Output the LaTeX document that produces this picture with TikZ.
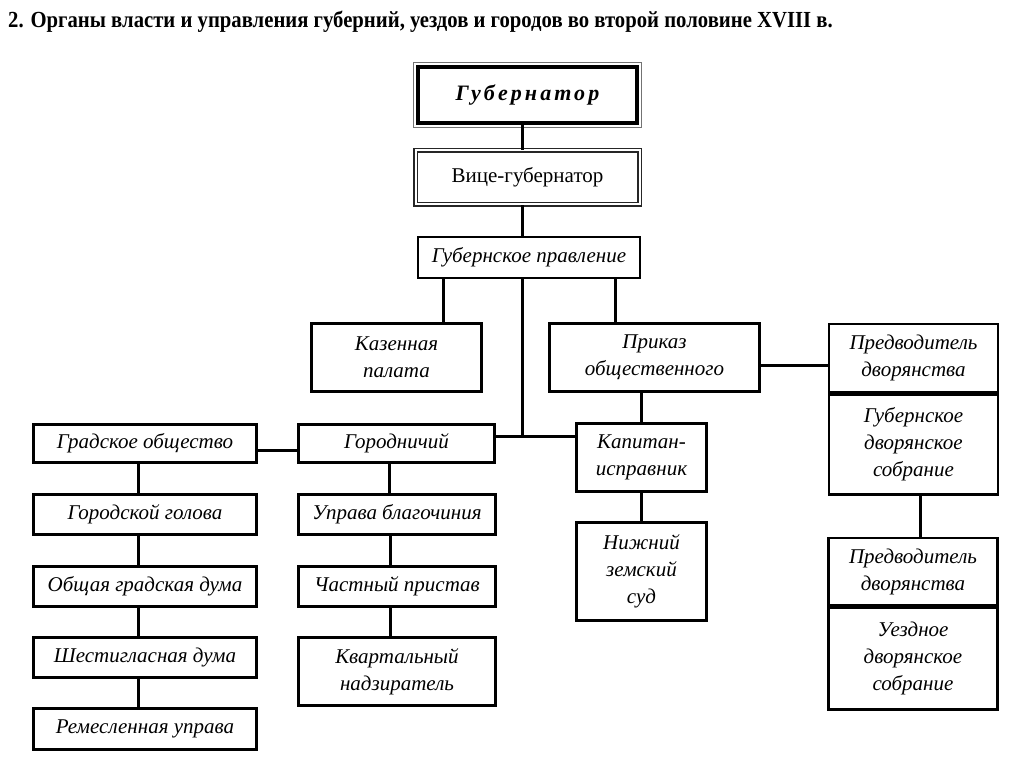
\documentclass[tikz,border=0pt]{standalone}
\usepackage{fontspec}
\setmainfont{Liberation Serif}
\newfontfamily\headfont{Liberation Serif}[FakeStretch=0.9]
\begin{document}
\begin{tikzpicture}[x=1pt,y=-1pt,
  box/.style={draw,line width=2.6pt,align=center,inner sep=1pt,font=\fontsize{21}{27}\selectfont\itshape},
  govbox/.style={draw,line width=3.6pt,align=center,font=\fontsize{22}{24}\selectfont\bfseries\itshape\addfontfeatures{LetterSpace=14}},
  vicebox/.style={draw=black!85,double,double distance=2pt,line width=1.1pt,align=center,font=\fontsize{21}{24}\selectfont},
  link/.style={line width=3pt}]
\useasboundingbox (0,0) rectangle (1024,767);
\node[anchor=base west,inner sep=0pt,font=\headfont\bfseries\fontsize{23}{25}\selectfont] (title) at (8,28) {2. Органы власти и управления губерний, уездов и городов во второй половине XVIII в.};
\node[govbox,minimum width=219pt,minimum height=56pt] (gov) at (527.5,95) {Губернатор};
\draw[black!55,line width=0.9pt] ([shift={(-3pt,3pt)}]gov.north west) rectangle ([shift={(3pt,-3pt)}]gov.south east);
\node[vicebox,minimum width=224pt,minimum height=54pt] (vice) at (527.5,177.5) {Вице-губернатор};
\node[box,minimum width=222pt,minimum height=41pt] (prav) at (529,257.5) {Губернское правление};
\node[box,minimum width=170pt,minimum height=68pt] (kazen) at (396.5,357.5) {Казенная\\палата};
\node[box,minimum width=210pt,minimum height=68pt] (prikaz) at (654.5,357.5) {Приказ\\общественного};
\node[box,minimum width=169pt,minimum height=68pt] (predtop) at (913.5,358) {Предводитель\\дворянства};
\node[box,minimum width=169pt,minimum height=100pt,anchor=north] (predbot) at (predtop.south) {Губернское\\дворянское\\собрание};
\node[box,minimum width=169pt,minimum height=67pt] (uezdtop) at (913,571.5) {Предводитель\\дворянства};
\node[box,minimum width=169pt,minimum height=102pt,anchor=north] (uezdbot) at (uezdtop.south) {Уездное\\дворянское\\собрание};
\node[box,minimum width=196pt,minimum height=38pt] (gorodn) at (396.5,443.5) {Городничий};
\node[box,minimum width=130pt,minimum height=68pt] (kapitan) at (641.5,457.5) {Капитан-\\исправник};
\node[box,minimum width=130pt,minimum height=98pt] (nizh) at (641.5,571.5) {Нижний\\земский\\суд};
\node[box,minimum width=223pt,minimum height=38pt] (grad) at (145,443.5) {Градское общество};
\node[box,minimum width=223pt,minimum height=40pt] (golova) at (145,514.5) {Городской голова};
\node[box,minimum width=223pt,minimum height=40pt] (obsh) at (145,586.5) {Общая градская дума};
\node[box,minimum width=223pt,minimum height=40pt] (shest) at (145,657.5) {Шестигласная дума};
\node[box,minimum width=223pt,minimum height=41pt] (remes) at (145,729) {Ремесленная управа};
\node[box,minimum width=197pt,minimum height=40pt] (uprava) at (397,514.5) {Управа благочиния};
\node[box,minimum width=197pt,minimum height=40pt] (chast) at (397,586.5) {Частный пристав};
\node[box,minimum width=197pt,minimum height=68pt] (kvart) at (397,671.5) {Квартальный\\надзиратель};
\coordinate (trunk) at (522,436);
\draw[link] (gov.south -| trunk) -- (vice.north -| trunk);
\draw[link] (vice.south -| trunk) -- (prav.north -| trunk);
\draw[link] (prav.south -| trunk) -- (trunk);
\draw[link] (gorodn.east |- trunk) -- (kapitan.west |- trunk);
\draw[link] ([xshift=-86pt]prav.south) coordinate (p1) -- (p1 |- kazen.north);
\draw[link] ([xshift=86pt]prav.south) coordinate (p2) -- (p2 |- prikaz.north);
\draw[link] (kapitan.north) -- (kapitan.north |- prikaz.south);
\draw[link] (kapitan.south) -- (nizh.north);
\draw[link] ([yshift=-7.5pt]prikaz.east) coordinate (q) -- (q -| predtop.west);
\draw[link] ([yshift=-6.5pt]grad.east) coordinate (g) -- (g -| gorodn.west);
\draw[link] ([xshift=6.5pt]predbot.south) coordinate (u) -- (u |- uezdtop.north);
\foreach \a/\b in {grad/golova,golova/obsh,obsh/shest,shest/remes,gorodn/uprava,uprava/chast,chast/kvart}
  \draw[link] ([xshift=-7pt]\a.south) coordinate (c) -- (c |- \b.north);
\end{tikzpicture}
\end{document}
